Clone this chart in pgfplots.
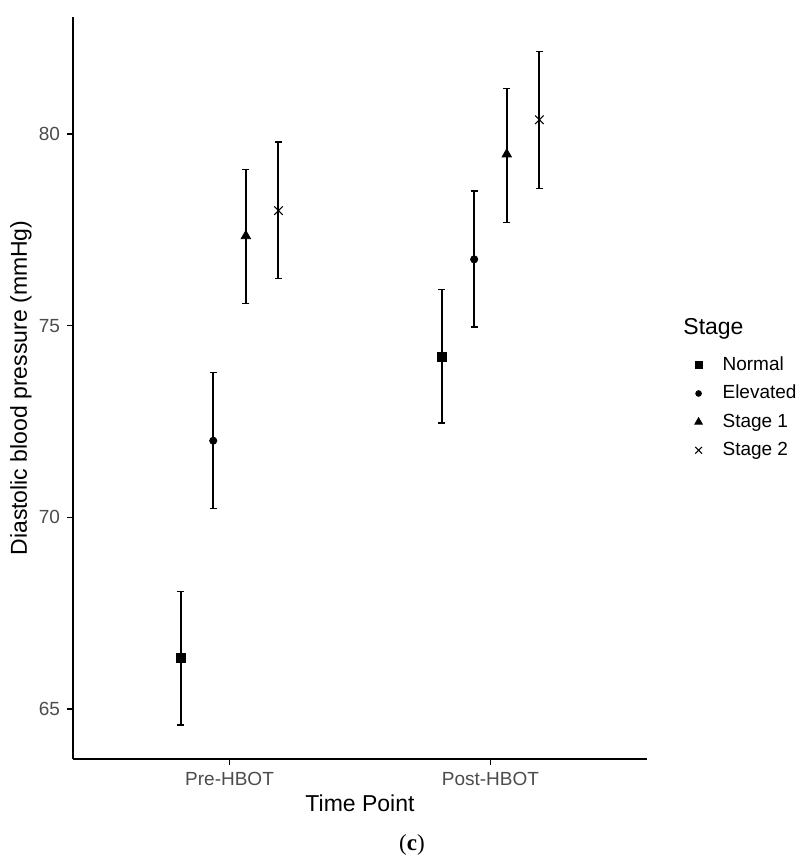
\documentclass[border=0pt]{standalone}
\usepackage{pgfplots}
\pgfplotsset{compat=1.18}
\usepackage{fontspec}
\setmainfont{Liberation Sans}
\newfontfamily\capfont{Liberation Serif}

% x, y, error plus, error minus (Pre-HBOT = 1, Post-HBOT = 2, dodged)
\pgfplotstableread{
x y ep em
0.8125 66.33 1.74 1.75
1.8125 74.19 1.75 1.73
}\normal
\pgfplotstableread{
x y ep em
0.9375 72.00 1.78 1.77
1.9375 76.73 1.78 1.77
}\elevated
\pgfplotstableread{
x y ep em
1.0625 77.34 1.73 1.76
2.0625 79.47 1.72 1.78
}\stageone
\pgfplotstableread{
x y ep em
1.1875 78.00 1.79 1.77
2.1875 80.37 1.78 1.79
}\stagetwo

\begin{document}
\begin{tikzpicture}
\useasboundingbox (-36.5pt,-48.5pt) rectangle (363.5pt,379.5pt);
\begin{axis}[
    at={(0pt,0pt)}, anchor=south west,
    scale only axis,
    width=287pt, height=371pt,
    xmin=0.4, xmax=2.6,
    ymin=63.7, ymax=83.05,
    axis x line*=bottom, axis y line*=left,
    axis line style={line width=1pt, -},
    xtick={1,2}, xticklabels={Pre-HBOT,Post-HBOT},
    ytick={65,70,75,80},
    tick align=outside, major tick length=3pt,
    tick style={black, line width=0.8pt},
    /pgf/number format/assume math mode=true,
    ticklabel style={font=\fontsize{9.5}{11}\selectfont, text=black!70},
    xlabel={Time Point}, ylabel={Diastolic blood pressure (mmHg)},
    label style={font=\fontsize{11.5}{13}\selectfont},
    xlabel style={at={(axis description cs:0.5,0)}, anchor=center, yshift=-22pt},
    ylabel style={at={(axis description cs:0,0.5)}, anchor=center, rotate=0, yshift=26pt},
    error bars/y dir=both, error bars/y explicit,
    error bars/error bar style={line width=1pt, black},
    error bars/error mark options={rotate=90, black, line width=0.8pt, mark size=1.75pt},
    legend style={draw=none, fill=none, at={(axis description cs:1.07,0.554)},
        anchor=north west, font=\fontsize{9.5}{11}\selectfont, row sep=2pt},
    legend cell align=left,
    legend image code/.code={\path[draw=none] (0pt,0pt) -- (12.5pt,0pt);
        \draw[#1, /tikz/every mark/.append style={scale=0.8}] plot coordinates {(2.5pt,0pt)};},
]
\addplot[only marks, mark=square*, mark size=2.2pt, black]
    table[x=x, y=y, y error plus=ep, y error minus=em] {\normal};
\addlegendentry{Normal}
\addplot[only marks, mark=*, mark size=1.8pt, black]
    table[x=x, y=y, y error plus=ep, y error minus=em] {\elevated};
\addlegendentry{Elevated}
\addplot[only marks, mark=triangle*, mark size=2.7pt, black]
    table[x=x, y=y, y error plus=ep, y error minus=em] {\stageone};
\addlegendentry{Stage 1}
\addplot[only marks, mark=x, mark size=3pt, black, mark options={line width=0.5pt}]
    table[x=x, y=y, y error plus=ep, y error minus=em] {\stagetwo};
\addlegendentry{Stage 2}
\end{axis}
\node[anchor=west, font=\fontsize{11.5}{13}\selectfont, inner sep=0pt] at (305pt,215pt) {Stage};
\node[font=\capfont\fontsize{11.5}{13}\selectfont] at (169.5pt,-43pt) {(\textbf{c})};
\end{tikzpicture}
\end{document}
